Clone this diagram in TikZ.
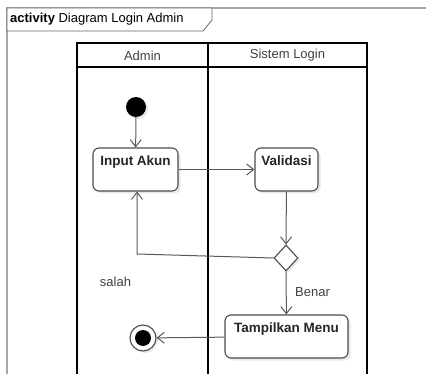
\documentclass[tikz,border=0pt]{standalone}
\usepackage{fontspec}
\setmainfont{Liberation Sans}
\usetikzlibrary{arrows.meta,shapes.geometric,shadows}
\begin{document}
\begin{tikzpicture}[x=1pt,y=-1pt,
  framecol/.style={draw=gray!70,line width=1.2pt},
  lane/.style={draw=black,line width=1.6pt},
  act/.style={draw=black!70,line width=1.1pt,rounded corners=6pt,fill=white,
    drop shadow={opacity=0.18,shadow xshift=2.5pt,shadow yshift=-2.5pt},
    inner sep=0pt},
  acttext/.style={font=\fontsize{13.5}{15}\selectfont\bfseries,text=black!85},
  dec/.style={diamond,draw=black!70,line width=1.1pt,fill=white,inner sep=0pt,
    minimum width=24pt,minimum height=26pt,
    drop shadow={opacity=0.18,shadow xshift=2pt,shadow yshift=-2pt}},
  flow/.style={draw=black!65,line width=1pt,-{Straight Barb[length=7pt,width=11pt,line width=1pt]}},
  lbl/.style={font=\fontsize{13}{15}\selectfont,text=black!75}
]
\useasboundingbox (0,0) rectangle (426,374);
% frame
\draw[framecol] (7,374) -- (7,8) -- (426,8);
\draw[draw=black!60,line width=0.8pt,fill=white] (7,8) -- (212,8) -- (212,20) -- (203,31) -- (7,31) -- cycle;
\node[anchor=west,inner sep=0pt] (title) at (10,19.5) {\fontsize{13}{15}\selectfont\textbf{activity} Diagram Login Admin};
% swimlanes
\draw[lane] (77,374) -- (77,43) -- (367,43) -- (367,374);
\draw[lane] (208,43) -- (208,374);
\draw[lane] (77,67) -- (367,67);
\node[lbl] (h1) at (142.5,55.5) {Admin};
\node[lbl] (h2) at (287.5,55.5) {Sistem Login};
% nodes
\node[circle,fill=black,minimum size=20pt,inner sep=0pt,
  drop shadow={opacity=0.18,shadow xshift=2pt,shadow yshift=-2pt}] (start) at (136,107) {};
\node[act,minimum width=85pt,minimum height=43pt] (input) at (135.5,169.5) {};
\node[acttext,anchor=north] at ([yshift=-5pt]input.north) {Input Akun};
\node[act,minimum width=63pt,minimum height=43pt] (valid) at (286.5,169.5) {};
\node[acttext,anchor=north] at ([yshift=-5pt]valid.north) {Validasi};
\node[dec] (dec) at (286,258) {};
\node[act,minimum width=123pt,minimum height=43pt] (menu) at (286.5,336.5) {};
\node[acttext,anchor=north] at ([yshift=-5pt]menu.north) {Tampilkan Menu};
\node[circle,draw=black!70,line width=1.1pt,fill=white,minimum size=26pt,inner sep=0pt,
  drop shadow={opacity=0.18,shadow xshift=2pt,shadow yshift=-2pt}] (end) at (143,338) {};
\node[circle,fill=black,minimum size=16pt,inner sep=0pt] (endin) at (143,338) {};
\coordinate (corner) at (137,254);
% edges
\draw[flow] (start) -- (input);
\draw[flow] (input) -- (valid);
\draw[flow] (valid) -- (dec);
\draw[flow] (dec.west) -- (corner) -- (input.south -| corner);
\draw[flow] (dec) -- (menu);
\draw[flow] (menu) -- (end);
\node[lbl] (salah) at (115.5,282) {salah};
\node[lbl] (benar) at (312.5,292) {Benar};
\end{tikzpicture}
\end{document}
